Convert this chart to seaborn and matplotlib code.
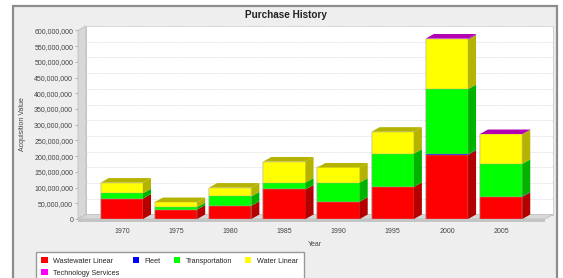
import numpy as np
import pandas as pd
import matplotlib
matplotlib.use('Agg')
import matplotlib.pyplot as plt
import seaborn as sns
from matplotlib.patches import Polygon, Rectangle, Patch
from matplotlib.lines import Line2D
from matplotlib.transforms import IdentityTransform
from matplotlib.ticker import FuncFormatter, MultipleLocator

# Purchase history values (millions)
years = ['1970', '1975', '1980', '1985', '1990', '1995', '2000', '2005']
wastewater_linear = [65, 30, 42, 94, 55, 102, 204, 70]
fleet = [0, 0, 0, 0, 0, 0, 1.5, 1.5]
transportation = [17, 8, 30, 22, 61, 106, 208, 104]
water_linear = [34, 16, 28, 67, 48, 70, 158, 94]
technology_services = [0, 0, 0, 0, 0, 0, 3, 1]

series_names = ['Wastewater Linear', 'Fleet', 'Transportation', 'Water Linear', 'Technology Services']
series_vals = [wastewater_linear, fleet, transportation, water_linear, technology_services]
colors = ['#ff0000', '#0000ff', '#00ff00', '#ffff00', '#ff00ff']

vals = np.array(series_vals, dtype=float) * 1e6
cum = np.cumsum(vals, axis=0)

sns.set_style('white')
plt.rcParams['font.family'] = ['Liberation Sans', 'DejaVu Sans']

W, H = 563, 278
fig = plt.figure(figsize=(W / 100, H / 100), dpi=100, facecolor='white')

# outer frame
fig.add_artist(Rectangle((13, -10), 544, H - 5.7 + 10, transform=IdentityTransform(),
                         facecolor='#eeeeee', edgecolor='#8c8c8c', lw=1.6, zorder=0))

# front plane of the 3D plot
fx0, fx1, fy0, fy1 = 78, 545, 219, 30.5
ax = fig.add_axes([fx0 / W, (H - fy0) / H, (fx1 - fx0) / W, (fy0 - fy1) / H])
ax.patch.set_visible(False)

bar_w = 0.78
for i in reversed(range(len(series_names))):
    df = pd.DataFrame({'Year': years, 'Value': cum[i]})
    sns.barplot(data=df, x='Year', y='Value', order=years, color=colors[i],
                saturation=1, width=bar_w, errorbar=None, ax=ax,
                edgecolor='#b0a0a0', linewidth=0.3, zorder=3)

ax.set_xlim(-0.81, 7.81)
ax.set_ylim(0, 600e6)
ax.yaxis.set_major_locator(MultipleLocator(50e6))
ax.yaxis.set_major_formatter(FuncFormatter(lambda v, p: f'{v:,.0f}'))
for s in ax.spines.values():
    s.set_visible(False)
ax.tick_params(axis='x', length=0, pad=6.5, labelsize=5, labelcolor='#444444')
ax.tick_params(axis='y', length=2, width=0.5, color='#999999', pad=1.5,
               labelsize=5, labelcolor='#444444', left=True)
ax.set_xlabel('')
ax.set_ylabel('')

dx, dy = 8, 4.5

def px(x, y):
    return ax.transData.transform((x, y))

def darker(c, f):
    r, g, b = matplotlib.colors.to_rgb(c)
    return (r * f, g * f, b * f)

# walls and floor (display pixels)
bl = px(-0.81, 0); br = px(7.81, 0); tl = px(-0.81, 600e6); tr = px(7.81, 600e6)
d = np.array([dx, dy])
ax.add_patch(Polygon([bl + d, br + d, tr + d, tl + d], closed=True, transform=IdentityTransform(),
                     facecolor='white', edgecolor='#c8c8c8', lw=0.6, zorder=0.5, clip_on=False))
ax.add_patch(Polygon([bl, tl, tl + d, bl + d], closed=True, transform=IdentityTransform(),
                     facecolor='#d8d8d8', edgecolor='#b8b8b8', lw=0.5, zorder=0.6, clip_on=False))
ax.add_patch(Polygon([bl, br, br + d, bl + d], closed=True, transform=IdentityTransform(),
                     facecolor='#d8d8d8', edgecolor='#b8b8b8', lw=0.5, zorder=0.6, clip_on=False))
ax.add_patch(Polygon([bl, br, br + np.array([0, -2.5]), bl + np.array([0, -2.5])], closed=True,
                     transform=IdentityTransform(), facecolor='#c4c4c4', edgecolor='none',
                     zorder=0.6, clip_on=False))

# gridlines on back wall
for v in np.arange(50e6, 600e6 + 1, 50e6):
    a = px(-0.81, v) + d
    b = px(7.81, v) + d
    ax.add_line(Line2D([a[0], b[0]], [a[1], b[1]], transform=IdentityTransform(),
                       color='#e2e2e2', lw=0.6, ls=(0, (2, 1)), zorder=0.7, clip_on=False))

# 3D side and top faces of bars
for j in range(len(years)):
    left, right = j - bar_w / 2, j + bar_w / 2
    top_i = None
    for i in range(len(series_names)):
        if vals[i, j] <= 0:
            continue
        bottom = cum[i, j] - vals[i, j]
        p1 = px(right, bottom); p2 = px(right, cum[i, j])
        ax.add_patch(Polygon([p1, p2, p2 + d, p1 + d], closed=True, transform=IdentityTransform(),
                             facecolor=darker(colors[i], 0.7), edgecolor='none', zorder=3, clip_on=False))
        top_i = i
    t = cum[top_i, j]
    q1 = px(left, t); q2 = px(right, t)
    ax.add_patch(Polygon([q1, q2, q2 + d, q1 + d], closed=True, transform=IdentityTransform(),
                         facecolor=darker(colors[top_i], 0.7), edgecolor='none', zorder=3, clip_on=False))

fig.text(286 / W, 1 - 15.5 / H, 'Purchase History', ha='center', va='center',
         fontsize=7.2, fontweight='bold', color='#222222')
fig.text(315 / W, 1 - 244 / H, 'Year', ha='center', va='center', fontsize=5, color='#444444')
fig.text(22 / W, 1 - 124 / H, 'Acquisition Value', ha='center', va='center', rotation=90,
         fontsize=5, color='#444444')

# legend filled column by column -> reorder so it reads row by row
order = [0, 4, 1, 2, 3]
handles = [Patch(facecolor=colors[k], edgecolor='none') for k in order]
labels = [series_names[k] for k in order]
fig.legend(handles, labels, loc='upper left', bbox_to_anchor=(36 / W, 1 - 252 / H),
           ncol=4, fontsize=5.2, frameon=True, fancybox=False, edgecolor='#999999',
           facecolor='white', framealpha=1, handlelength=0.85, handleheight=0.85,
           handletextpad=0.8, columnspacing=1.8, borderpad=0.75, labelspacing=0.6,
           borderaxespad=0)

fig.savefig('out.png', dpi=100, facecolor='white')
